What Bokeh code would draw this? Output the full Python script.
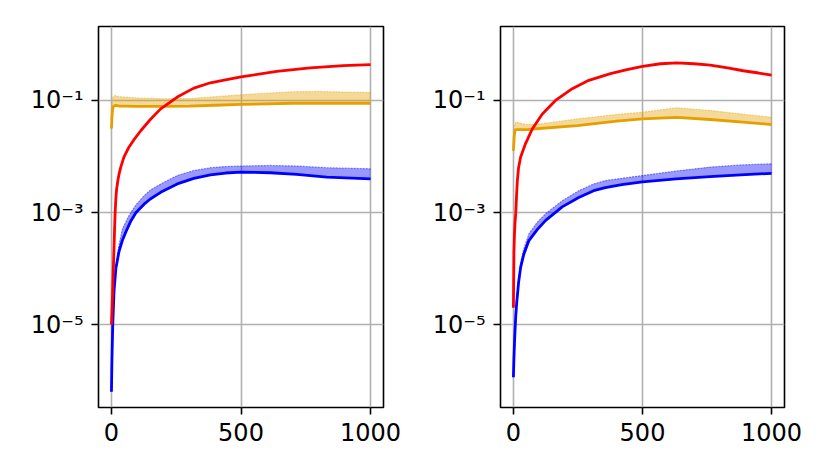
from bokeh.plotting import figure
from bokeh.layouts import row
from bokeh.models import Range1d, FixedTicker, CustomJSTickFormatter
from bokeh.embed import file_html
from bokeh.resources import INLINE

# ---------------- data ----------------
# left panel
L_red_x = [0, 2, 4, 6, 8, 10, 12, 14, 17, 20, 25, 30, 36, 48, 68, 90, 113, 150, 190, 254, 318, 382, 440, 500, 638,
           767, 895, 1000]
L_red_y = [1.0e-5, 1.78e-5, 3.16e-5, 6.31e-5, 1.26e-4, 2.40e-4, 5.01e-4, 9.55e-4, 1.78e-3, 2.63e-3, 3.80e-3, 5.01e-3,
           6.46e-3, 9.77e-3, 1.48e-2, 2.09e-2, 2.88e-2, 4.57e-2, 7.08e-2, 0.115, 0.166, 0.207, 0.234, 0.263, 0.331,
           0.380, 0.417, 0.437]

L_org_x = [0, 2, 4, 6, 10, 15, 20, 30, 50, 100, 200, 300, 400, 500, 600, 700, 800, 900, 1000]
L_org_y = [0.0316, 0.0501, 0.0676, 0.0759, 0.0794, 0.0813, 0.0813, 0.0794, 0.0794, 0.0785, 0.0785, 0.0794, 0.0822,
           0.0851, 0.0871, 0.0891, 0.0891, 0.0891, 0.0891]
L_org_hi = [0.0316, 0.0708, 0.105, 0.115, 0.120, 0.123, 0.120, 0.117, 0.115, 0.111, 0.107, 0.108, 0.117,
            0.126, 0.135, 0.143, 0.145, 0.141, 0.138]

L_blu_x = [0, 2, 5, 10, 17, 29, 42, 60, 75, 95, 126, 150, 190, 254, 318, 382, 440, 500, 613, 715, 831, 1000]
L_blu_y = [6.31e-7, 2.51e-6, 1.0e-5, 3.98e-5, 1.0e-4, 2.0e-4, 3.16e-4, 5.01e-4, 7.08e-4, 1.0e-3, 1.41e-3, 1.74e-3,
           2.29e-3, 3.24e-3, 4.07e-3, 4.68e-3, 5.07e-3, 5.25e-3, 5.13e-3, 4.79e-3, 4.27e-3, 3.98e-3]
L_blu_hi = [6.31e-7, 2.51e-6, 1.0e-5, 3.98e-5, 1.12e-4, 2.63e-4, 5.01e-4, 7.59e-4, 1.0e-3, 1.38e-3, 2.0e-3, 2.51e-3,
            3.24e-3, 4.57e-3, 5.62e-3, 6.31e-3, 6.61e-3, 6.76e-3, 6.92e-3, 6.76e-3, 6.31e-3, 6.03e-3]

# right panel
R_red_x = [0, 1, 2, 4, 6, 9, 12, 15, 20, 28, 47, 73, 112, 163, 228, 292, 376, 440, 500, 570, 633, 700, 762, 830,
           890, 950, 1000]
R_red_y = [2.0e-5, 6.31e-5, 2.0e-4, 3.98e-4, 6.31e-4, 9.55e-4, 1.91e-3, 3.55e-3, 6.31e-3, 9.77e-3, 1.70e-2,
           3.09e-2, 5.75e-2, 0.100, 0.162, 0.229, 0.302, 0.355, 0.407, 0.452, 0.468, 0.452, 0.427, 0.380, 0.339,
           0.309, 0.282]

R_org_x = [0, 3, 6, 9, 15, 30, 54, 100, 247, 400, 500, 633, 762, 900, 1000]
R_org_y = [0.0126, 0.0224, 0.0282, 0.0302, 0.0302, 0.0302, 0.0302, 0.0316, 0.0355, 0.0427, 0.0468, 0.0501,
           0.0457, 0.0407, 0.0372]
R_org_hi = [0.0126, 0.0282, 0.0380, 0.0407, 0.0407, 0.0389, 0.0372, 0.0380, 0.0468, 0.0562, 0.0617, 0.0741,
            0.0661, 0.0562, 0.0501]

R_blu_x = [0, 2, 5, 9, 13, 20, 28, 40, 60, 93, 125, 189, 253, 311, 356, 420, 500, 630, 762, 880, 1000]
R_blu_y = [1.15e-6, 2.51e-6, 5.89e-6, 1.41e-5, 2.51e-5, 5.62e-5, 1.05e-4, 1.78e-4, 3.16e-4, 5.01e-4, 7.24e-4,
           1.26e-3, 1.86e-3, 2.45e-3, 2.79e-3, 3.16e-3, 3.51e-3, 3.98e-3, 4.37e-3, 4.68e-3, 5.01e-3]
R_blu_hi = [1.15e-6, 2.51e-6, 5.89e-6, 1.41e-5, 2.51e-5, 6.31e-5, 1.26e-4, 2.24e-4, 4.17e-4, 6.76e-4, 9.55e-4,
            1.62e-3, 2.45e-3, 3.24e-3, 3.72e-3, 4.07e-3, 4.57e-3, 5.50e-3, 6.46e-3, 7.08e-3, 7.41e-3]

x_ticks = [0, 500, 1000]
y_ticks = [1e-5, 1e-3, 1e-1]
y_tick_exps = [-5, -3, -1]
y_tick_labels = ["10\u207b\u2075", "10\u207b\u00b3", "10\u207b\u00b9"]

RED = "#ff0000"
BLUE = "#0000ff"
ORANGE = "#e69f00"
FONT = "DejaVu Sans"


def make_panel(red_x, red_y, org_x, org_y, org_hi, blu_x, blu_y, blu_hi, width, border_left, border_right):
    p = figure(width=width, height=457, output_backend="svg", toolbar_location=None,
               y_axis_type="log", x_range=Range1d(-50, 1050), y_range=Range1d(10 ** -6.48, 10 ** 0.32),
               min_border_left=border_left, min_border_right=border_right, min_border_top=26, min_border_bottom=50)
    p.background_fill_color = "white"
    p.border_fill_color = "white"
    p.outline_line_color = "black"
    p.outline_line_width = 1.6

    p.xaxis.ticker = FixedTicker(ticks=x_ticks)
    p.yaxis.ticker = FixedTicker(ticks=y_ticks)
    p.yaxis.formatter = CustomJSTickFormatter(
        args=dict(exps=y_tick_exps, labels=y_tick_labels),
        code="const e = Math.round(Math.log10(tick)); const i = exps.indexOf(e); return i >= 0 ? labels[i] : '';")
    for ax in (p.xaxis, p.yaxis):
        ax.axis_line_color = None
        ax.major_tick_line_color = "black"
        ax.major_tick_line_width = 1.6
        ax.major_tick_out = 7
        ax.major_tick_in = 0
        ax.minor_tick_line_color = None
        ax.major_label_text_font = FONT
        ax.major_label_text_font_size = "24px"
        ax.major_label_text_color = "black"
    p.xaxis.major_label_standoff = 8
    p.yaxis.major_label_standoff = 8

    p.grid.grid_line_color = "#b0b0b0"
    p.grid.grid_line_width = 1.6

    # blue band + line
    p.varea(x=blu_x, y1=blu_y, y2=blu_hi, fill_color=BLUE, fill_alpha=0.4)
    p.line(blu_x, blu_hi, line_color=BLUE, line_alpha=0.45, line_width=1.2, line_dash="2 1")
    p.line(blu_x, blu_y, line_color=BLUE, line_width=2.8)
    # orange band + line
    p.varea(x=org_x, y1=org_y, y2=org_hi, fill_color=ORANGE, fill_alpha=0.4)
    p.line(org_x, org_hi, line_color=ORANGE, line_alpha=0.45, line_width=1.2, line_dash="2 1")
    p.line(org_x, org_y, line_color=ORANGE, line_width=2.8)
    # red line
    p.line(red_x, red_y, line_color=RED, line_width=2.8)
    return p


p1 = make_panel(L_red_x, L_red_y, L_org_x, L_org_y, L_org_hi, L_blu_x, L_blu_y, L_blu_hi, 410, 98, 27)
p2 = make_panel(R_red_x, R_red_y, R_org_x, R_org_y, R_org_hi, R_blu_x, R_blu_y, R_blu_hi, 404, 90, 30)

layout = row(p1, p2)
open("out.html", "w").write(file_html(layout, INLINE))
